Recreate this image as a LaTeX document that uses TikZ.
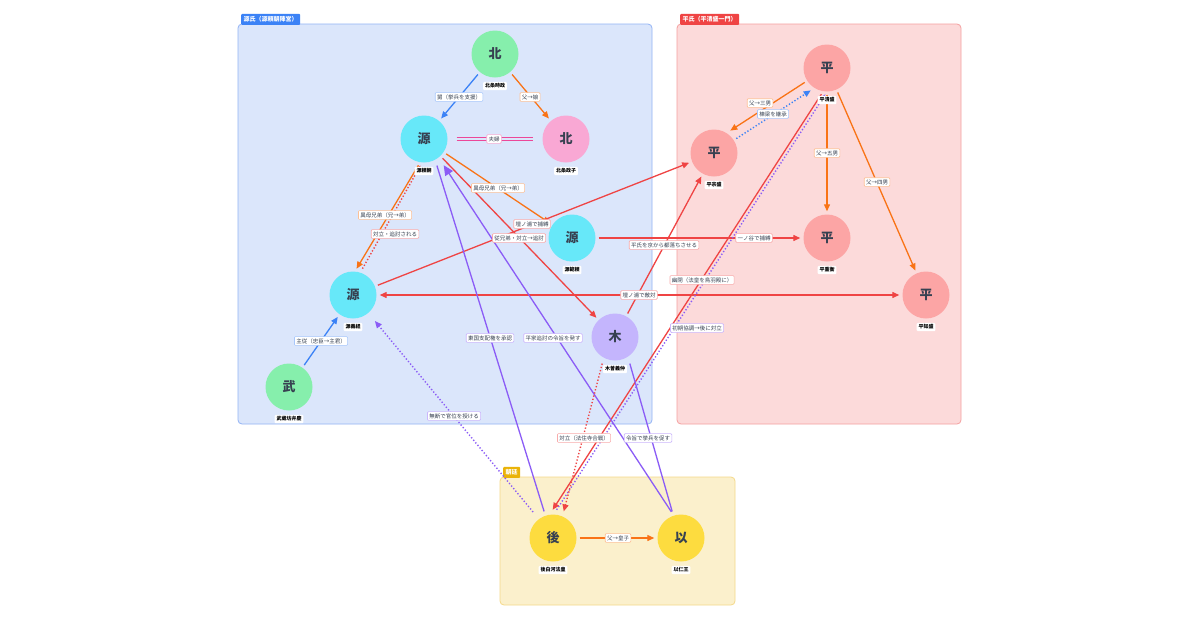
\documentclass[tikz,border=0pt]{standalone}
\usepackage{fontspec}
\setmainfont{Noto Sans CJK JP}
\usetikzlibrary{arrows.meta}
\definecolor{gB}{HTML}{DBE6FB}\definecolor{gBd}{HTML}{93B4F5}\definecolor{gBt}{HTML}{3B82F6}
\definecolor{gR}{HTML}{FCDADA}\definecolor{gRd}{HTML}{F5A0A0}\definecolor{gRt}{HTML}{EF4444}
\definecolor{gY}{HTML}{FBF0CC}\definecolor{gYd}{HTML}{F5D98A}\definecolor{gYt}{HTML}{EAB308}
\definecolor{cG}{HTML}{86EFAC}\definecolor{cC}{HTML}{67E8F9}\definecolor{cP}{HTML}{F9A8D4}
\definecolor{cV}{HTML}{C4B5FD}\definecolor{cS}{HTML}{FCA5A5}\definecolor{cY}{HTML}{FDDC3F}
\definecolor{eO}{HTML}{F97316}\definecolor{eR}{HTML}{EF4444}\definecolor{eB}{HTML}{3B82F6}
\definecolor{eV}{HTML}{8B5CF6}\definecolor{eP}{HTML}{EC4899}\definecolor{tx}{HTML}{374151}
\tikzset{
 x=1pt,y=-1pt,
 per/.style={circle,minimum size=47pt,inner sep=0pt,font=\fontsize{13}{13}\selectfont\bfseries,text=tx},
 nm/.style={fill=white,rounded corners=1pt,inner sep=1.8pt,font=\fontsize{5}{5}\selectfont\bfseries},
 grp/.style={rounded corners=4pt,line width=0.8pt},
 tab/.style={anchor=south west,inner sep=2.5pt,font=\fontsize{6}{6}\selectfont\bfseries,text=white,minimum height=11pt,rounded corners=1pt},
 lb/.style={solid,fill=white,draw=#1!45,line width=0.6pt,rounded corners=1pt,inner sep=1.8pt,font=\fontsize{5.5}{5.5}\selectfont,text=tx},
 e/.style={draw=#1,line width=1.3pt,-{Triangle[length=7pt,width=6pt]},shorten >=3pt,shorten <=3pt},
 ed/.style={e=#1,dotted,line width=1.4pt},
}
\begin{document}
\begin{tikzpicture}
\useasboundingbox (0,0) rectangle (1200,630);
\fill[white] (0,0) rectangle (1200,630);
% groups
\draw[grp,fill=gB,draw=gBd] (238,24) rectangle (652,424);
\node[tab,fill=gBt] at (241,25) {源氏（源頼朝陣営）};
\draw[grp,fill=gR,draw=gRd] (677,24) rectangle (961,424);
\node[tab,fill=gRt] at (680,25) {平氏（平清盛一門）};
\draw[grp,fill=gY,draw=gYd] (500,477) rectangle (735,605);
\node[tab,fill=gYt] at (503,478) {朝廷};
% persons
\node[per,fill=cG] (tokimasa) at (495,54) {北};
\node[per,fill=cC] (yoritomo) at (424,139) {源};
\node[per,fill=cP] (masako) at (566,139) {北};
\node[per,fill=cC] (noriyori) at (572,238) {源};
\node[per,fill=cC] (yoshitsune) at (353,295) {源};
\node[per,fill=cG] (benkei) at (289,387) {武};
\node[per,fill=cV] (yoshinaka) at (615,337) {木};
\node[per,fill=cS] (kiyomori) at (827,68) {平};
\node[per,fill=cS] (munemori) at (714,153) {平};
\node[per,fill=cS] (shigehira) at (827,238) {平};
\node[per,fill=cS] (tomomori) at (926,295) {平};
\node[per,fill=cY] (goshirakawa) at (553,538) {後};
\node[per,fill=cY] (mochihito) at (681,538) {以};
% edges
\path[e=eB] (tokimasa) -- (yoritomo);
\path[e=eO] (tokimasa) -- (masako);
\draw[eP,line width=1.1pt,shorten <=9pt,shorten >=9pt] ([yshift=-1.8pt]yoritomo.east) -- ([yshift=-1.8pt]masako.west);
\draw[eP,line width=1.1pt,shorten <=9pt,shorten >=9pt] ([yshift=1.8pt]yoritomo.east) -- ([yshift=1.8pt]masako.west);
\path[e=eO] ([xshift=-4pt]yoritomo.south) -- ([xshift=2pt]yoshitsune.north);
\path[ed=eR] ([xshift=8pt]yoshitsune.north) -- ([xshift=-2pt]yoritomo.south);
\path[e=eO] (yoritomo) -- (noriyori);
\path[e=eR] (yoritomo) -- (yoshinaka);
\path[e=eR] (yoshitsune) -- (munemori);
\path[e=eR] (noriyori) -- (shigehira);
\path[e=eR,{Triangle[length=7pt,width=6pt]}-{Triangle[length=7pt,width=6pt]}] (yoshitsune) -- (tomomori);
\path[e=eR] (yoshinaka) -- (munemori);
\path[e=eO] ([xshift=-3pt,yshift=4pt]kiyomori.south west) -- ([xshift=-3pt,yshift=4pt]munemori.north east);
\path[ed=eB] ([xshift=3pt,yshift=-4pt]munemori.north east) -- ([xshift=3pt,yshift=-4pt]kiyomori.south west);
\path[e=eO] (kiyomori) -- (shigehira);
\path[e=eO] (kiyomori) -- (tomomori);
\path[e=eR] ([xshift=-4pt]kiyomori.south) -- ([xshift=-2pt,yshift=2pt]goshirakawa.north);
\path[ed=eV] ([xshift=2pt,yshift=2pt]goshirakawa.north) -- ([xshift=0pt]kiyomori.south);
\path[e=eV,-] ([xshift=-8pt]goshirakawa.north) -- ([xshift=12pt]yoritomo.south);
\path[e=eV,-{Triangle[length=10pt,width=9pt]}] ([xshift=-8pt]mochihito.north) -- ([xshift=18pt]yoritomo.south);
\path[e=eV,-] ([xshift=14pt]yoshinaka.south) -- ([xshift=-8pt]mochihito.north);
\path[ed=eR] ([xshift=-12pt]yoshinaka.south) -- ([xshift=10pt]goshirakawa.north);
\path[ed=eV] ([xshift=-18pt]goshirakawa.north) -- ([xshift=20pt]yoshitsune.south);
\path[e=eO] (goshirakawa) -- (mochihito);
\path[e=eB] (benkei) -- (yoshitsune);
\foreach \n/\t in {tokimasa/北条時政,yoritomo/源頼朝,masako/北条政子,noriyori/源範頼,yoshitsune/源義経,benkei/武蔵坊弁慶,yoshinaka/木曽義仲,kiyomori/平清盛,munemori/平宗盛,shigehira/平重衡,tomomori/平知盛,goshirakawa/後白河法皇,mochihito/以仁王}
  \node[nm] (\n-l) at ([yshift=-32pt]\n.center) {\t};
% labels
\foreach \c/\p/\t in {eB/{(459,97)}/舅（挙兵を支援）,eO/{(530,97)}/父→娘,eP/{(494,139)}/夫婦,
 eO/{(498,188)}/異母兄弟（兄→弟）,eO/{(385,215)}/異母兄弟（兄→弟）,eR/{(395,234)}/対立・追討される,
 eR/{(532,224)}/壇ノ浦で捕縛,eR/{(519,238)}/従兄弟・対立→追討,eR/{(664,245)}/平氏を京から都落ちさせる,
 eR/{(754,238)}/一ノ谷で捕縛,eR/{(702,280)}/幽閉（法皇を鳥羽殿に）,eR/{(639,295)}/壇ノ浦で敵対,
 eV/{(697,328)}/初期協調→後に対立,eO/{(760,103)}/父→三男,eB/{(773,114)}/棟梁を継承,
 eO/{(827,153)}/父→五男,eO/{(877,182)}/父→四男,eV/{(490,338)}/東国支配権を承認,
 eV/{(553,338)}/平家追討の令旨を発す,eB/{(321,341)}/主従（忠臣→主君）,eV/{(454,416)}/無断で官位を授ける,
 eR/{(584,438)}/対立（法住寺合戦）,eV/{(648,438)}/令旨で挙兵を促す,eO/{(618,538)}/父→皇子}
  \node[lb=\c] at \p {\t};
\end{tikzpicture}
\end{document}
